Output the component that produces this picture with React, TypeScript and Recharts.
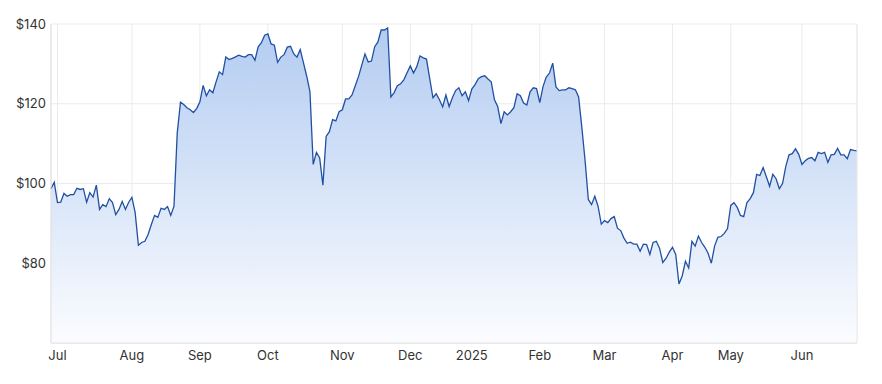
import {
  AreaChart,
  Area,
  XAxis,
  YAxis,
  CartesianGrid,
  ReferenceLine,
} from 'recharts';

// closing prices, one per trading day (late Jun 2024 -> late Jun 2025)
const PRICES = [
  98.7, 100.3, 95.2, 95.3, 97.5, 96.8, 97.2, 97.2, 98.8, 98.5,
  98.7, 95.3, 97.7, 96.6, 99.6, 93.5, 94.7, 94.2, 96.2, 95.2,
  92.2, 93.5, 95.5, 93.5, 95.3, 96.5, 92.7, 84.5, 85.2, 85.5,
  87.2, 89.7, 92.0, 91.5, 93.8, 93.5, 94.2, 92.0, 94.3, 112.7,
  120.4, 119.8, 119.0, 118.5, 117.8, 118.8, 120.5, 124.6, 122.0, 123.5,
  122.75, 125.5, 128.0, 127.3, 131.75, 131.1, 131.4, 131.75, 132.2, 131.9,
  131.7, 132.3, 132.3, 130.9, 134.3, 135.3, 137.2, 137.5, 135.0, 134.7,
  130.4, 131.7, 132.3, 134.2, 134.4, 132.5, 131.7, 133.6, 130.25, 126.9,
  123.0, 104.8, 107.8, 106.4, 99.6, 111.8, 113.0, 116.0, 115.7, 118.0,
  118.5, 121.2, 121.2, 122.2, 124.5, 126.8, 129.7, 132.5, 130.5, 130.7,
  134.3, 135.5, 138.5, 138.5, 139.0, 121.7, 122.8, 124.5, 125.0, 126.0,
  127.8, 129.5, 127.7, 129.3, 132.0, 131.5, 131.2, 126.3, 121.5, 122.5,
  121.0, 119.2, 122.2, 119.3, 121.5, 123.3, 124.0, 122.0, 123.0, 120.8,
  123.7, 124.8, 126.3, 126.8, 127.0, 126.2, 125.5, 121.0, 119.3, 115.0,
  118.0, 117.2, 118.0, 119.0, 122.5, 122.0, 120.2, 119.7, 123.0, 124.0,
  123.8, 120.3, 124.3, 126.7, 127.7, 130.2, 124.2, 123.3, 123.5, 123.5,
  124.0, 123.8, 123.5, 121.7, 114.0, 105.7, 96.0, 94.7, 96.8, 94.3,
  89.8, 90.7, 90.2, 91.2, 91.7, 88.8, 88.2, 86.3, 85.0, 85.3,
  84.8, 84.8, 83.0, 84.8, 84.7, 82.2, 85.2, 85.5, 83.8, 80.2,
  81.2, 82.8, 84.0, 82.2, 74.8, 76.8, 80.5, 78.8, 85.5, 84.3,
  86.8, 85.2, 84.0, 82.5, 80.0, 84.3, 86.5, 86.7, 87.5, 88.7,
  94.5, 95.2, 94.0, 92.0, 91.7, 95.2, 96.2, 97.7, 102.3, 102.0,
  104.0, 101.7, 99.3, 102.3, 101.2, 98.7, 100.0, 104.3, 107.2, 107.5,
  108.7, 107.3, 104.8, 105.7, 106.3, 106.5, 105.7, 107.8, 107.5, 107.8,
  105.3, 107.2, 107.3, 108.8, 107.2, 107.2, 106.2, 108.5, 108.3, 108.2,
];

// index of the first trading day of each month, and its label
const MONTH_TICKS = [2, 25, 46, 67, 90, 111, 130, 151, 171, 192, 210, 232];
const MONTH_LABELS = ['Jul', 'Aug', 'Sep', 'Oct', 'Nov', 'Dec', '2025', 'Feb', 'Mar', 'Apr', 'May', 'Jun'];

const PRICE_TICKS = [80, 100, 120, 140];

const data = PRICES.map((price, i) => ({ i, price }));

const monthLabel = (v: number) => {
  const k = MONTH_TICKS.indexOf(v);
  return k >= 0 ? MONTH_LABELS[k] : '';
};

export default function App() {
  return (
    <div style={{ position: 'fixed', left: 0, top: 0, width: 882, height: 384, background: '#fff' }}>
      <AreaChart
        width={882}
        height={384}
        data={data}
        margin={{ top: 24, right: 25, left: 0, bottom: 11 }}
        style={{ fontFamily: 'Inter, sans-serif' }}
      >
        <defs>
          <linearGradient id="priceFill" x1="0" y1="0" x2="0" y2="1">
            <stop offset="0%" stopColor="#b3ccf1" />
            <stop offset="100%" stopColor="#fbfcff" />
          </linearGradient>
        </defs>
        <CartesianGrid stroke="#ebebeb" />
        <XAxis
          dataKey="i"
          type="number"
          domain={[0, PRICES.length - 1]}
          ticks={MONTH_TICKS}
          tickFormatter={monthLabel}
          interval={0}
          height={30}
          axisLine={{ stroke: '#e0e0e0' }}
          tickLine={false}
          tick={{ fill: '#333', fontSize: 13 }}
        />
        <YAxis
          domain={[60, 140]}
          ticks={PRICE_TICKS}
          tickFormatter={(v: number) => `$${v}`}
          width={51}
          tickSize={5}
          tickMargin={0}
          axisLine={{ stroke: '#e0e0e0' }}
          tickLine={false}
          tick={{ fill: '#333', fontSize: 13 }}
        />
        <ReferenceLine x={PRICES.length - 1} stroke="#ebebeb" />
        <Area
          type="linear"
          dataKey="price"
          stroke="#2150a3"
          strokeWidth={1.3}
          fill="url(#priceFill)"
          fillOpacity={1}
          dot={false}
          activeDot={false}
          isAnimationActive={false}
        />
      </AreaChart>
    </div>
  );
}
